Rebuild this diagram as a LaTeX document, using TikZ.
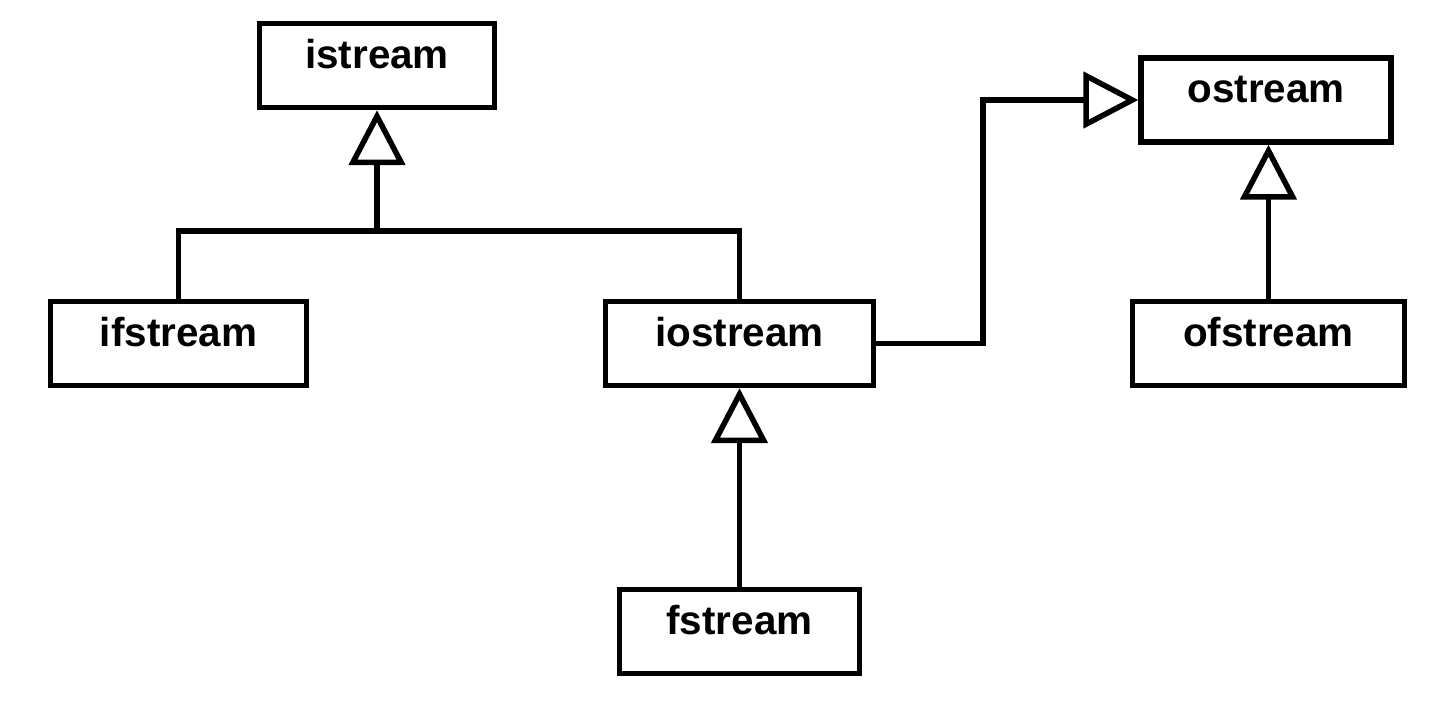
\documentclass[tikz,border=0pt]{standalone}
\usepackage{fontspec}
\setmainfont{Liberation Sans}
\usetikzlibrary{arrows.meta}

\tikzset{
    classbox/.style={draw, line width=0.11cm, inner sep=0pt,
        text height=0.9cm, text depth=0.78cm,
        font=\fontsize{23}{27}\selectfont\bfseries},
    inherit/.style={line width=0.11cm,
        -{Triangle[open, length=1.1cm, width=1.12cm]}}
}

\begin{document}
\begin{tikzpicture}[x=0.02cm, y=-0.02cm]
        \useasboundingbox (0,0) rectangle (1440,702);

        % Classes
        \node[classbox, minimum width=4.7cm] (istream) at (377,65.5) {istream};
        \node[classbox, minimum width=5.0cm] (ostream) at (1266,100) {ostream};
        \node[classbox, minimum width=5.12cm] (ifstream) at (178.5,343.5) {ifstream};
        \node[classbox, minimum width=5.36cm] (iostream) at (739.5,343.5) {iostream};
        \node[classbox, minimum width=5.44cm] (ofstream) at (1268.5,343.5) {ofstream};
        \node[classbox, minimum width=4.8cm] (fstream) at (739.5,631.5) {fstream};

        % Junction under istream
        \coordinate (join) at (377,231);

        % Inheritance
        \draw[line width=0.11cm] (ifstream.north) |- (join);
        \draw[line width=0.11cm] (iostream.north) |- (join);
        \draw[inherit] (join) -- (istream.south);
        \draw[inherit] (iostream.east) -- ++(107,0) |- (ostream.west);
        \draw[inherit] (ofstream.north) -- (ofstream.north |- ostream.south);
        \draw[inherit] (fstream.north) -- (iostream.south);
\end{tikzpicture}
\end{document}
